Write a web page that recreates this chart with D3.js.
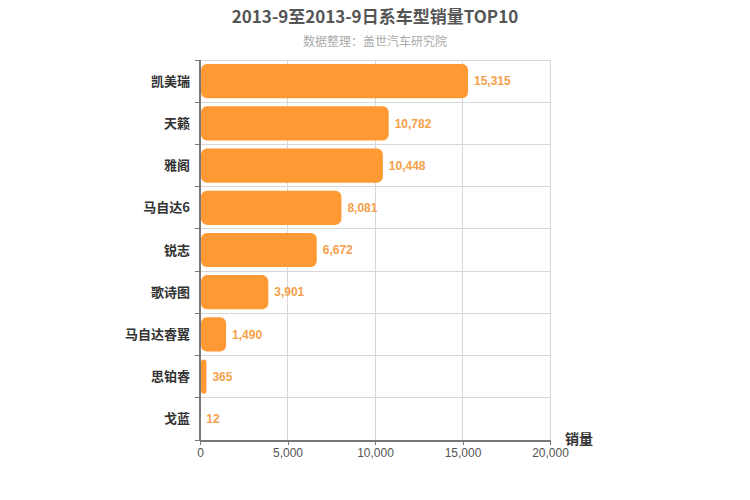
<!DOCTYPE html>
<html lang="zh">
<head>
<meta charset="UTF-8">
<title>2013-9至2013-9日系车型销量TOP10</title>
<script src="https://d3js.org/d3.v7.min.js"></script>
<style>
    body { margin: 0; background: #fff; font-family: "Noto Sans CJK SC", "DejaVu Sans", sans-serif; }
    .grid line { stroke: #d8d8d8; shape-rendering: crispEdges; }
    .axis path, .axis line { stroke: #777; shape-rendering: crispEdges; }
</style>
</head>
<body>
<div id="chart"></div>
<script>
    const models = ["凯美瑞", "天籁", "雅阁", "马自达6", "锐志", "歌诗图", "马自达睿翼", "思铂睿", "戈蓝"];
    const sales = [15315, 10782, 10448, 8081, 6672, 3901, 1490, 365, 12];
    const xTicks = [0, 5000, 10000, 15000, 20000];

    const W = 750, H = 500;
    const margin = {top: 60, right: 200, bottom: 60, left: 200};
    const width = W - margin.left - margin.right;
    const height = H - margin.top - margin.bottom;
    const barColor = "#ff9933";

    const svg = d3.select("#chart").append("svg")
        .attr("width", W)
        .attr("height", H);

    svg.append("text")
        .attr("x", W / 2).attr("y", 23)
        .attr("text-anchor", "middle")
        .style("font-size", "17px").style("font-weight", "bold")
        .style("fill", "#555")
        .text("2013-9至2013-9日系车型销量TOP10");

    svg.append("text")
        .attr("x", W / 2).attr("y", 46)
        .attr("text-anchor", "middle")
        .style("font-size", "12px")
        .style("fill", "#aaa")
        .text("数据整理：盖世汽车研究院");

    const g = svg.append("g")
        .attr("transform", "translate(" + margin.left + "," + margin.top + ")");

    const x = d3.scaleLinear().domain([0, 20000]).range([0, width]);
    const y = d3.scaleBand().domain(models).range([0, height]).paddingInner(0.19).paddingOuter(0.095);

    // grid
    const grid = g.append("g").attr("class", "grid");
    grid.selectAll(".v").data(xTicks).enter().append("line")
        .attr("x1", d => x(d)).attr("x2", d => x(d))
        .attr("y1", 0).attr("y2", height);
    const step = y.step();
    const bounds = d3.range(models.length + 1).map(i => i * height / models.length);
    grid.selectAll(".h").data(bounds).enter().append("line")
        .attr("x1", 0).attr("x2", width)
        .attr("y1", d => d).attr("y2", d => d);

    // bars
    g.selectAll(".bar").data(models).enter().append("rect")
        .attr("class", "bar")
        .attr("x", 1)
        .attr("y", d => y(d))
        .attr("width", (d, i) => Math.max(0, x(sales[i]) - 1))
        .attr("height", y.bandwidth())
        .attr("rx", (d, i) => Math.min(6, x(sales[i]) / 2))
        .style("fill", barColor);

    g.selectAll(".val").data(models).enter().append("text")
        .attr("x", (d, i) => x(sales[i]) + 6)
        .attr("y", d => y(d) + y.bandwidth() / 2)
        .attr("dy", "0.35em")
        .style("font-family", "Arial, 'Liberation Sans', sans-serif")
        .style("font-size", "12px").style("font-weight", "bold")
        .style("fill", "#f5a04a")
        .text((d, i) => d3.format(",")(sales[i]));

    // x axis
    const xAxis = g.append("g").attr("class", "axis")
        .attr("transform", "translate(0," + height + ")")
        .call(d3.axisBottom(x).tickValues(xTicks).tickFormat(d3.format(",")).tickSize(5).tickSizeOuter(0));
    xAxis.selectAll("text")
        .style("font-family", "Arial, 'Liberation Sans', sans-serif")
        .style("font-size", "12px").style("fill", "#555");
    xAxis.select(".domain").style("stroke-width", 2);

    // y axis
    const yAxis = g.append("g").attr("class", "axis");
    yAxis.append("line")
        .attr("x1", 0).attr("x2", 0).attr("y1", 0).attr("y2", height)
        .style("stroke-width", 2);
    yAxis.selectAll(".tk").data(bounds).enter().append("line")
        .attr("x1", -5).attr("x2", 0)
        .attr("y1", d => d).attr("y2", d => d);
    yAxis.selectAll(".lbl").data(models).enter().append("text")
        .attr("x", -10)
        .attr("y", d => y(d) + y.bandwidth() / 2)
        .attr("dy", "0.35em")
        .attr("text-anchor", "end")
        .style("font-size", "13px").style("font-weight", "bold")
        .style("fill", "#333")
        .text(d => d);

    svg.append("text")
        .attr("x", margin.left + width + 15).attr("y", margin.top + height + 4)
        .style("font-size", "14px").style("font-weight", "bold")
        .style("fill", "#333")
        .text("销量");
</script>
</body>
</html>
